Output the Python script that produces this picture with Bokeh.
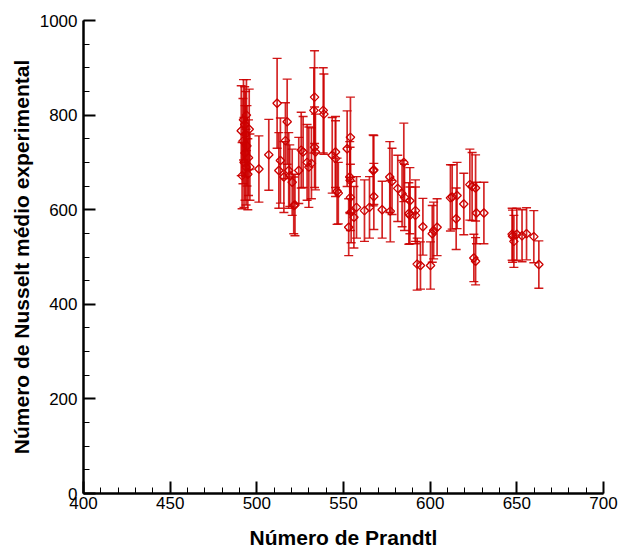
import math
from bokeh.plotting import figure
from bokeh.models import ColumnDataSource, Whisker, TeeHead, FixedTicker
from bokeh.embed import file_html
from bokeh.resources import INLINE

# Prandtl number (x), mean experimental Nusselt (y), uncertainty (+/-)
prandtl = [491.0, 491.5, 492.0, 492.3, 492.6, 493.0, 493.2, 493.5, 493.8, 494.0,
           494.3, 494.8, 495.2, 495.6, 496.0,
           501.2, 506.9, 511.7, 512.7, 513.6, 515.6, 516.5, 517.5, 518.4, 519.0,
           520.4, 521.3, 522.0, 524.2, 525.6, 526.7, 529.0, 530.0, 531.5, 533.3,
           532.9, 533.3, 533.8, 538.3, 538.7, 543.5, 545.4, 545.4, 546.3, 547.0,
           552.1, 554.0, 553.6, 553.8, 554.0, 554.4, 553.0, 556.0, 557.5, 562.1,
           565.0, 567.1, 567.5, 567.5, 572.3, 576.7, 577.0, 578.0, 581.3, 583.8,
           584.8, 585.2, 587.7, 588.3, 588.3, 591.5, 591.5, 592.5, 594.4, 595.8,
           600.2, 601.2, 602.0, 604.0, 611.7, 612.7, 615.5, 615.0, 619.4, 622.9,
           624.2, 626.2, 626.7, 631.0, 625.2, 626.2, 647.3, 647.5, 648.3, 650.0,
           653.0, 655.6, 659.8, 662.7]
nusselt = [767, 672, 745, 790, 700, 780, 720, 760, 690, 800,
           735, 675, 710, 770, 690,
           686, 716, 825, 683, 704, 669, 746, 786, 683, 672,
           658, 609, 610, 683, 726, 722, 700, 690, 698, 838,
           810, 732, 722, 810, 802, 715, 722, 708, 639, 635,
           729, 753, 669, 662, 626, 595, 563, 584, 605, 598,
           605, 683, 684, 628, 600, 669, 597, 660, 645, 634,
           700, 626, 592, 619, 588, 598, 588, 485, 482, 564,
           482, 549, 556, 563, 625, 627, 630, 581, 612, 653,
           649, 646, 593, 593, 498, 491, 548, 544, 533, 548,
           545, 549, 543, 484]
uncert = [95, 70, 90, 85, 95, 80, 100, 90, 80, 75,
          85, 75, 80, 85, 70,
          70, 75, 95, 80, 90, 75, 80, 90, 80, 65,
          70, 60, 65, 70, 80, 75, 80, 85, 75, 98,
          90, 85, 80, 90, 85, 80, 75, 80, 70, 65,
          80, 85, 75, 70, 70, 65, 60, 65, 65, 65,
          65, 75, 73, 70, 60, 75, 65, 70, 70, 70,
          83, 70, 65, 70, 60, 65, 60, 55, 50, 60,
          50, 60, 60, 60, 70, 68, 70, 65, 65, 75,
          72, 70, 65, 65, 50, 50, 55, 55, 55, 55,
          55, 55, 55, 50]

x_major = [400, 450, 500, 550, 600, 650, 700]
x_minor = list(range(400, 701, 10))
y_major = [0, 200, 400, 600, 800, 1000]
y_minor = list(range(0, 1001, 50))

lower = [n - u for n, u in zip(nusselt, uncert)]
upper = [n + u for n, u in zip(nusselt, uncert)]
src = ColumnDataSource(dict(x=prandtl, y=nusselt, lo=lower, hi=upper))

RED = "#CC0000"
FONT = "Liberation Sans"

p = figure(width=621, height=551, x_range=(400, 700), y_range=(0, 1000),
           output_backend="svg", toolbar_location=None,
           min_border_left=83, min_border_right=18, min_border_top=20,
           min_border_bottom=58)
p.outline_line_color = None
p.xgrid.visible = False
p.ygrid.visible = False
p.background_fill_color = "white"
p.border_fill_color = "white"

wh = Whisker(source=src, base="x", lower="lo", upper="hi", dimension="height",
             line_color=RED, line_width=1.7, line_alpha=0.85,
             upper_head=TeeHead(size=9, line_color=RED, line_width=1.4, line_alpha=0.9),
             lower_head=TeeHead(size=9, line_color=RED, line_width=1.4, line_alpha=0.9))
p.add_layout(wh)

p.scatter("x", "y", source=src, marker="square", angle=math.pi / 4, size=6,
          fill_color="white", fill_alpha=0.0, line_color=RED, line_width=1.3)

for ax in (p.xaxis[0], p.yaxis[0]):
    ax.axis_line_width = 2.5
    ax.axis_line_color = "black"
    ax.major_tick_in = 12
    ax.major_tick_out = 0
    ax.minor_tick_in = 6
    ax.minor_tick_out = 0
    ax.major_tick_line_width = 2
    ax.minor_tick_line_width = 1
    ax.major_label_text_font = FONT
    ax.major_label_text_font_size = "17px"
    ax.major_label_text_color = "black"
    ax.axis_label_text_font = FONT
    ax.axis_label_text_font_style = "bold"
    ax.axis_label_text_font_size = "21px"
    ax.axis_label_text_color = "black"

p.xaxis.ticker = FixedTicker(ticks=x_major, minor_ticks=x_minor)
p.yaxis.ticker = FixedTicker(ticks=y_major, minor_ticks=y_minor)
p.xaxis.axis_label = "Número de Prandtl"
p.yaxis.axis_label = "Número de Nusselt médio experimental"
p.xaxis.major_label_standoff = 3
p.yaxis.major_label_standoff = 6
p.xaxis.axis_label_standoff = 14
p.yaxis.axis_label_standoff = 4

open("out.html", "w").write(file_html(p, INLINE))
